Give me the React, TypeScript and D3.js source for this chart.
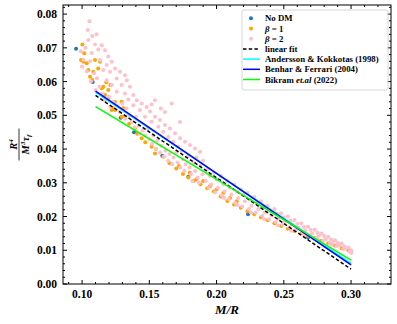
import React from "react";
import * as d3 from "d3";

const xTicks = [0.1, 0.15, 0.2, 0.25, 0.3];
const yTicks = [0, 0.01, 0.02, 0.03, 0.04, 0.05, 0.06, 0.07, 0.08];

const noDM: [number, number][] = [
  [0.0955, 0.0697], [0.1079, 0.0599], [0.1287, 0.0493], [0.1386, 0.045], [0.1596, 0.038],
  [0.179, 0.0318], [0.2234, 0.0207], [0.268, 0.0138],
];

const beta1: [number, number][] = [
  [0.1002, 0.071], [0.1016, 0.0684], [0.0992, 0.0664], [0.1034, 0.0654], [0.1046, 0.0634], [0.1083, 0.0629],
  [0.1059, 0.0614], [0.112, 0.0639], [0.1096, 0.0664], [0.1133, 0.0659], [0.1158, 0.0585], [0.117, 0.056],
  [0.1195, 0.055], [0.1245, 0.054], [0.1294, 0.054], [0.1306, 0.0521], [0.122, 0.0516], [0.1245, 0.0516],
  [0.1319, 0.0496], [0.1393, 0.0461], [0.1443, 0.0432], [0.1517, 0.0407], [0.1542, 0.0387], [0.1604, 0.0377],
  [0.1009, 0.0659], [0.1146, 0.058], [0.1195, 0.0575], [0.1232, 0.0521], [0.1294, 0.0496], [0.121, 0.059],
  [0.118, 0.0598], [0.1075, 0.0605], [0.135, 0.0475], [0.141, 0.0445], [0.147, 0.042],
  [0.165, 0.0358], [0.17, 0.0342], [0.175, 0.0326], [0.179, 0.0316], [0.183, 0.0306], [0.188, 0.0296],
  [0.193, 0.0284], [0.198, 0.0274], [0.203, 0.0259], [0.208, 0.0246], [0.213, 0.0236], [0.218, 0.0226],
  [0.223, 0.0216], [0.228, 0.0207], [0.233, 0.0198], [0.238, 0.0189], [0.243, 0.018], [0.248, 0.0172],
  [0.253, 0.0164], [0.258, 0.0157], [0.263, 0.015], [0.268, 0.0143], [0.273, 0.0136], [0.278, 0.0128],
  [0.283, 0.0121], [0.288, 0.0114], [0.293, 0.0106], [0.298, 0.0099], [0.3, 0.0094],
  [0.155, 0.04], [0.172, 0.035], [0.18, 0.033], [0.185, 0.031], [0.19, 0.0305], [0.2, 0.028],
  [0.205, 0.027], [0.21, 0.0255], [0.215, 0.0245], [0.195, 0.029],
];

const beta2: [number, number][] = [
  [0.1054, 0.0779], [0.1042, 0.0753], [0.1108, 0.074], [0.1076, 0.0735], [0.1046, 0.0723], [0.1096, 0.071],
  [0.1146, 0.0708], [0.112, 0.0695], [0.117, 0.0693], [0.1071, 0.0685], [0.1195, 0.0674], [0.1133, 0.0664],
  [0.122, 0.0659], [0.1183, 0.0649], [0.1245, 0.0639], [0.1282, 0.0629], [0.1208, 0.0629], [0.1158, 0.0634],
  [0.1319, 0.0619], [0.1257, 0.0609], [0.1332, 0.0604], [0.1294, 0.059], [0.1356, 0.0585], [0.122, 0.059],
  [0.1183, 0.0604], [0.1257, 0.057], [0.1319, 0.0565], [0.1381, 0.056], [0.1344, 0.0547], [0.1406, 0.0545],
  [0.1443, 0.0535], [0.1381, 0.053], [0.148, 0.0525], [0.143, 0.0516], [0.1505, 0.0511], [0.1468, 0.0496],
  [0.1542, 0.0496], [0.1517, 0.0481], [0.1579, 0.0486], [0.1616, 0.0471], [0.1567, 0.0466], [0.1653, 0.0461],
  [0.1604, 0.0451], [0.1691, 0.0447], [0.1641, 0.0436], [0.1728, 0.0432], [0.1678, 0.0422], [0.1765, 0.0422],
  [0.1802, 0.0412], [0.1715, 0.0407], [0.1839, 0.0402], [0.1877, 0.0392], [0.1542, 0.0545], [0.1517, 0.0532],
  [0.1616, 0.051], [0.1666, 0.0535], [0.1728, 0.048], [0.1585, 0.052],
  [0.099, 0.069], [0.101, 0.0665], [0.1025, 0.07], [0.1, 0.0645], [0.106, 0.066], [0.1035, 0.063],
  [0.109, 0.0625], [0.1065, 0.06], [0.111, 0.061], [0.113, 0.0585], [0.11, 0.0575], [0.115, 0.0565],
  [0.117, 0.0545], [0.12, 0.0555], [0.123, 0.054], [0.121, 0.0525], [0.126, 0.053], [0.128, 0.051],
  [0.13, 0.0535], [0.133, 0.052], [0.135, 0.05], [0.132, 0.049], [0.137, 0.048], [0.14, 0.0495],
  [0.139, 0.0465], [0.142, 0.047], [0.145, 0.0455], [0.143, 0.0445], [0.147, 0.044], [0.149, 0.046],
  [0.15, 0.043], [0.153, 0.044], [0.152, 0.0415], [0.156, 0.0425], [0.155, 0.04], [0.159, 0.041],
  [0.158, 0.039], [0.162, 0.0395], [0.161, 0.0378], [0.165, 0.0385], [0.164, 0.0365], [0.168, 0.0375],
  [0.167, 0.0355], [0.17, 0.039], [0.171, 0.036], [0.173, 0.0345], [0.175, 0.037], [0.174, 0.0395],
  [0.177, 0.0355], [0.176, 0.0335], [0.179, 0.038], [0.18, 0.0345], [0.181, 0.0325], [0.183, 0.036],
  [0.185, 0.0375], [0.184, 0.0335], [0.186, 0.0315], [0.188, 0.035], [0.19, 0.0365], [0.1895, 0.0325],
  [0.192, 0.0305], [0.193, 0.034], [0.195, 0.032], [0.196, 0.0295], [0.198, 0.033], [0.2, 0.031],
  [0.201, 0.0285], [0.203, 0.032], [0.205, 0.0295], [0.206, 0.0275], [0.208, 0.0305], [0.21, 0.0285],
  [0.211, 0.0265], [0.213, 0.0295], [0.215, 0.0275], [0.216, 0.0255], [0.218, 0.028], [0.22, 0.0265],
  [0.221, 0.0245], [0.223, 0.027], [0.225, 0.025], [0.226, 0.0232], [0.228, 0.0258], [0.23, 0.024],
  [0.231, 0.0222], [0.233, 0.0245], [0.235, 0.0228], [0.236, 0.0212], [0.238, 0.0232], [0.24, 0.0218],
  [0.241, 0.0203], [0.243, 0.0222], [0.245, 0.0208], [0.246, 0.0194], [0.248, 0.021], [0.25, 0.0198],
  [0.251, 0.0185], [0.253, 0.02], [0.255, 0.0188], [0.256, 0.0176], [0.258, 0.019], [0.26, 0.0178],
  [0.261, 0.0167], [0.263, 0.018], [0.265, 0.0169], [0.266, 0.0158], [0.268, 0.017], [0.27, 0.016],
  [0.271, 0.015], [0.273, 0.0161], [0.275, 0.0152], [0.276, 0.0143], [0.278, 0.015], [0.28, 0.0142],
  [0.281, 0.0133], [0.283, 0.014], [0.285, 0.0132], [0.286, 0.0124], [0.288, 0.013], [0.29, 0.0122],
  [0.291, 0.0114], [0.293, 0.012], [0.295, 0.0112], [0.296, 0.0105], [0.298, 0.0108], [0.3, 0.01],
  [0.3, 0.0092], [0.182, 0.0305], [0.187, 0.03], [0.194, 0.0285], [0.199, 0.0272], [0.204, 0.0262],
  [0.209, 0.0252], [0.214, 0.024], [0.219, 0.023], [0.224, 0.0222], [0.229, 0.0212], [0.234, 0.0202],
  [0.239, 0.0192], [0.244, 0.0184], [0.249, 0.0176], [0.254, 0.0168], [0.259, 0.016], [0.264, 0.0152],
  [0.269, 0.0144], [0.274, 0.0136], [0.279, 0.0128], [0.284, 0.012], [0.289, 0.0112], [0.294, 0.0104],
  [0.299, 0.0096], [0.2055, 0.0255], [0.2155, 0.0234], [0.2255, 0.0212], [0.2355, 0.0192],
  [0.2455, 0.0174], [0.2555, 0.0158], [0.2655, 0.0144], [0.2755, 0.0131], [0.2855, 0.0116],
];

const fitX = [0.11, 0.3];
const linearFitY = [0.0559, 0.0044];
const anderssonY = [0.0568, 0.0061];
const benharY = [0.0572, 0.0057];
const bikramY = [0.0526, 0.0071];

const W = 397;
const H = 324;
const L = 63, R = 391, T = 5, B = 284;

export default function App() {
  const x = d3.scaleLinear().domain([0.0858, 0.3297]).range([L, R]);
  const y = d3.scaleLinear().domain([0, 0.0827]).range([B, T]);
  const line = d3.line<number>().x((_, i) => x(fitX[i])).y((d) => y(d));

  const xMinor = d3.range(9, 33).map((v) => v / 100).filter((v) => !xTicks.some((t) => Math.abs(t - v) < 1e-9));
  const yMinor = d3.range(0, 42).map((v) => v * 0.002).filter((v) => v <= 0.0827 && !yTicks.some((t) => Math.abs(t - v) < 1e-9));

  const font = "'Liberation Serif', serif";
  const lines = [
    { data: linearFitY, color: "black", dash: "3.5,2.2", label: "linear fit" },
    { data: anderssonY, color: "#00ffff", dash: "", label: "Andersson & Kokkotas (1998)" },
    { data: benharY, color: "#0000ff", dash: "", label: "Benhar & Ferrari (2004)" },
    { data: bikramY, color: "#00ff00", dash: "", label: "Bikram" },
  ];

  const lx = 242, ly = 10;
  const rowY = (i: number) => ly + 8.3 + i * 10.2;
  const lfs = 8.8;

  return (
    <div style={{ position: "absolute", left: 0, top: 0 }}>
      <svg width={W} height={H} style={{ display: "block", background: "white" }}>
        <defs>
          <clipPath id="clip">
            <rect x={L} y={T} width={R - L} height={B - T} />
          </clipPath>
        </defs>
        <g clipPath="url(#clip)">
          {noDM.map((d, i) => (
            <circle key={"n" + i} cx={x(d[0])} cy={y(d[1])} r={2} fill="#1f77b4" />
          ))}
          {beta1.map((d, i) => (
            <circle key={"o" + i} cx={x(d[0])} cy={y(d[1])} r={2} fill="#ffa500" />
          ))}
          {beta2.map((d, i) => (
            <circle key={"p" + i} cx={x(d[0])} cy={y(d[1])} r={2} fill="#ffc0cb" />
          ))}
          {lines.map((l, i) => (
            <path key={"l" + i} d={line(l.data) || ""} fill="none" stroke={l.color} strokeWidth={1.5} strokeDasharray={l.dash || undefined} />
          ))}
        </g>
        <rect x={L} y={T} width={R - L} height={B - T} fill="none" stroke="black" strokeWidth={1} />
        {xTicks.map((t) => (
          <g key={"xt" + t}>
            <line x1={x(t)} x2={x(t)} y1={B} y2={B - 4} stroke="black" />
            <line x1={x(t)} x2={x(t)} y1={T} y2={T + 4} stroke="black" />
            <text x={x(t)} y={298} textAnchor="middle" fontFamily={font} fontWeight="bold" fontSize={11.5}>
              {t.toFixed(2)}
            </text>
          </g>
        ))}
        {xMinor.map((t) => (
          <g key={"xm" + t}>
            <line x1={x(t)} x2={x(t)} y1={B} y2={B - 2} stroke="black" />
            <line x1={x(t)} x2={x(t)} y1={T} y2={T + 2} stroke="black" />
          </g>
        ))}
        {yTicks.map((t) => (
          <g key={"yt" + t}>
            <line x1={L} x2={L + 4} y1={y(t)} y2={y(t)} stroke="black" />
            <line x1={R} x2={R - 4} y1={y(t)} y2={y(t)} stroke="black" />
            <text x={57} y={y(t) + 4} textAnchor="end" fontFamily={font} fontWeight="bold" fontSize={11.5}>
              {t.toFixed(2)}
            </text>
          </g>
        ))}
        {yMinor.map((t) => (
          <g key={"ym" + t}>
            <line x1={L} x2={L + 2} y1={y(t)} y2={y(t)} stroke="black" />
            <line x1={R} x2={R - 2} y1={y(t)} y2={y(t)} stroke="black" />
          </g>
        ))}
        <text x={(L + R) / 2} y={314} textAnchor="middle" fontFamily={font} fontStyle="italic" fontWeight="bold" fontSize={13}>
          M/R
        </text>
        <g transform={`translate(19,${(T + B) / 2}) rotate(-90)`} fontFamily={font} fontStyle="italic" fontWeight="bold">
          <text x={0} y={-2.5} textAnchor="middle" fontSize={10.5}>
            R<tspan fontSize={7} dy={-4}>4</tspan>
          </text>
          <line x1={-16} x2={16} y1={0} y2={0} stroke="black" strokeWidth={0.8} />
          <text x={0} y={9.5} textAnchor="middle" fontSize={10.5}>
            M<tspan fontSize={7} dy={-4}>3</tspan>
            <tspan dy={4}>τ</tspan>
            <tspan fontSize={7} dy={2}>f</tspan>
          </text>
        </g>
        <rect x={lx} y={ly} width={146} height={80} rx={2} fill="white" fillOpacity={0.8} stroke="#cccccc" strokeWidth={0.8} />
        {[
          { c: "#1f77b4", t: <tspan>No DM</tspan> },
          { c: "#ffa500", t: <><tspan fontStyle="italic">β</tspan><tspan> = 1</tspan></> },
          { c: "#ffc0cb", t: <><tspan fontStyle="italic">β</tspan><tspan> = 2</tspan></> },
        ].map((e, i) => (
          <g key={"ls" + i}>
            <circle cx={lx + 9} cy={rowY(i)} r={2} fill={e.c} />
            <text x={lx + 23} y={rowY(i) + 3} fontFamily={font} fontWeight="bold" fontSize={lfs}>
              {e.t}
            </text>
          </g>
        ))}
        {lines.map((l, i) => (
          <g key={"ll" + i}>
            <line x1={lx + 1} x2={lx + 18} y1={rowY(i + 3)} y2={rowY(i + 3)} stroke={l.color} strokeWidth={1.5} strokeDasharray={l.dash || undefined} />
            <text x={lx + 23} y={rowY(i + 3) + 3} fontFamily={font} fontWeight="bold" fontSize={lfs}>
              {l.label === "Bikram" ? (
                <>
                  <tspan>Bikram </tspan>
                  <tspan fontStyle="italic">et.al</tspan>
                  <tspan> (2022)</tspan>
                </>
              ) : (
                l.label
              )}
            </text>
          </g>
        ))}
      </svg>
    </div>
  );
}
